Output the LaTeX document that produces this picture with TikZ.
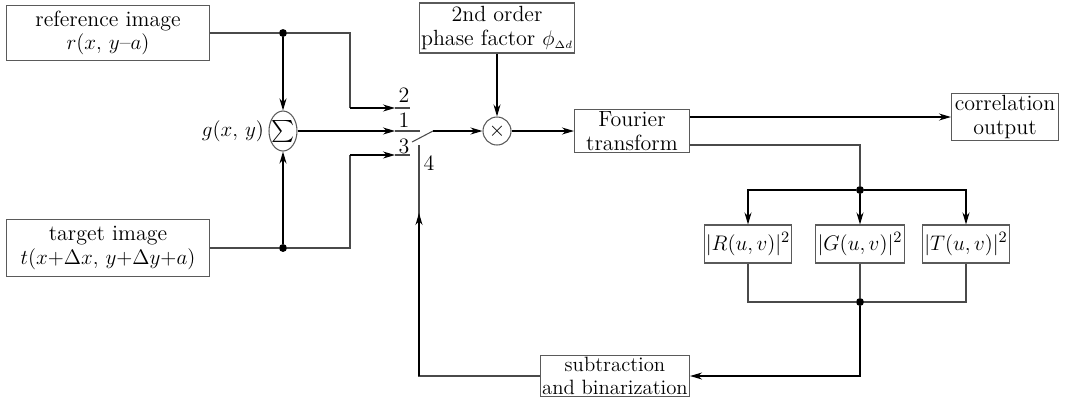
\documentclass[tikz,border=0pt]{standalone}
\usepackage{amsmath,amssymb}
\usepackage{xcolor}
\usepackage{tikz}
\usetikzlibrary{shapes.geometric, arrows.meta, positioning, calc}
\definecolor{linegray}{HTML}{4A4A4A}
\definecolor{boxgray}{HTML}{5A5A5A}

\begin{document}
\begin{tikzpicture}[x=0.2mm, y=-0.2mm,
    block/.style={rectangle, draw=boxgray, line width=0.6pt, text centered, align=center, inner sep=1pt},
    wire/.style={draw=linegray, line width=0.6pt},
    arr/.style={-{Stealth[length=2.4mm, width=1.4mm]}, line width=0.7pt},
    dot/.style={circle, fill, inner sep=0pt, minimum size=4.5pt},
    every node/.style={font=\fontsize{12.5}{13.5}\selectfont}
]
\useasboundingbox (0,0) rectangle (1069,404);

% Inputs
\node[block, minimum width=4.06cm, minimum height=1.1cm] (ref) at (108,33) {reference image\\$r(x,\,y\text{--}a)$};
\node[block, minimum width=4.06cm, minimum height=1.14cm] (tgt) at (108,248) {target image\\$t(x{+}\Delta x,\,y{+}\Delta y{+}a)$};
\node[dot] (dtop) at (283,33) {};
\node[dot] (dbot) at (283,248) {};
\node[ellipse, draw=boxgray, line width=0.6pt, minimum width=0.56cm, minimum height=0.8cm, inner sep=-1pt] (sum) at (283,131) {$\sum$};
\node[left=-1pt of sum] (glab) {$g(x,\,y)$};

% Switch terminals
\coordinate (c2) at (350,108);
\coordinate (c3) at (350,155);
\coordinate (j2) at (395,108);
\coordinate (t2) at (410,108);
\coordinate (j1) at (395,131);
\coordinate (t1) at (420,131);
\coordinate (j3) at (395,155);
\coordinate (t3) at (410,155);
\coordinate (s0) at (412,142);
\coordinate (s1) at (433,131);
\coordinate (a4) at (419,213);
\coordinate (t4) at (419,145);
\node (n2) at (404,95) {2};
\node (n1) at (404,120) {1};
\node (n3) at (404,146) {3};
\node (n4) at (429,163) {4};

% Processing chain
\node[block, minimum width=3.1cm, minimum height=1.0cm] (phase) at (497,28) {2nd order\\phase factor $\phi_{\scriptscriptstyle\Delta d}$};
\node[circle, draw=boxgray, line width=0.6pt, minimum size=0.56cm, inner sep=0pt] (mult) at (497,131) {$\times$};
\node[block, minimum width=2.3cm, minimum height=0.86cm] (four) at (632,131) {Fourier\\transform};
\node[block, minimum width=2.14cm, minimum height=0.84cm] (corr) at (1005,117) {correlation\\output};
\coordinate (fo) at (690,145);
\node[dot] (dft) at (860,190) {};
\node[block, minimum width=1.68cm, minimum height=0.76cm] (R) at (748,244) {$|R(u,v)|^2$};
\node[block, minimum width=1.68cm, minimum height=0.76cm] (G) at (860,244) {$|G(u,v)|^2$};
\node[block, minimum width=1.68cm, minimum height=0.76cm] (T) at (966,244) {$|T(u,v)|^2$};
\node[dot] (dbt) at (860,302) {};
\node[block, minimum width=2.92cm, minimum height=0.78cm, font=\fontsize{11.8}{13}\selectfont] (sub) at (615,376) {subtraction\\and binarization};

% Inputs to switch
\draw[wire] (ref.east) -- (dtop) -| (c2);
\draw[wire] (tgt.east) -- (dbot) -| (c3);
\draw[arr] (c2) -- (j2);
\draw[wire] (j2) -- (t2);
\draw[arr] (c3) -- (j3);
\draw[wire] (j3) -- (t3);
\draw[arr, line width=1pt] (dtop) -- (sum.north);
\draw[arr, line width=1pt] (dbot) -- (sum.south);
\draw[arr] (sum.east) -- (j1);
\draw[wire] (j1) -- (t1);
\draw[wire] (s0) -- (s1);
\draw[arr] (s1) -- (mult.west);

% Multiply and transform
\draw[arr] (phase.south) -- (mult.north);
\draw[arr] (mult.east) -- (four.west);
\draw[arr] (four.east |- corr.west) -- (corr.west);
\draw[wire] (fo) -| (dft);
\draw[arr, line width=0.6pt] (dft) -| (R.north);
\draw[arr, line width=0.6pt] (dft) -- (G.north);
\draw[arr, line width=0.6pt] (dft) -| (T.north);

% Feedback loop
\draw[wire] (R.south) |- (dbt);
\draw[wire] (T.south) |- (dbt);
\draw[wire] (G.south) -- (dbt);
\draw[arr] (dbt) |- (sub.east);
\draw[wire] (sub.west) -| (a4);
\draw[arr] (sub.west -| a4) -- (a4);
\draw[wire] (a4) -- (t4);
\end{tikzpicture}
\end{document}
